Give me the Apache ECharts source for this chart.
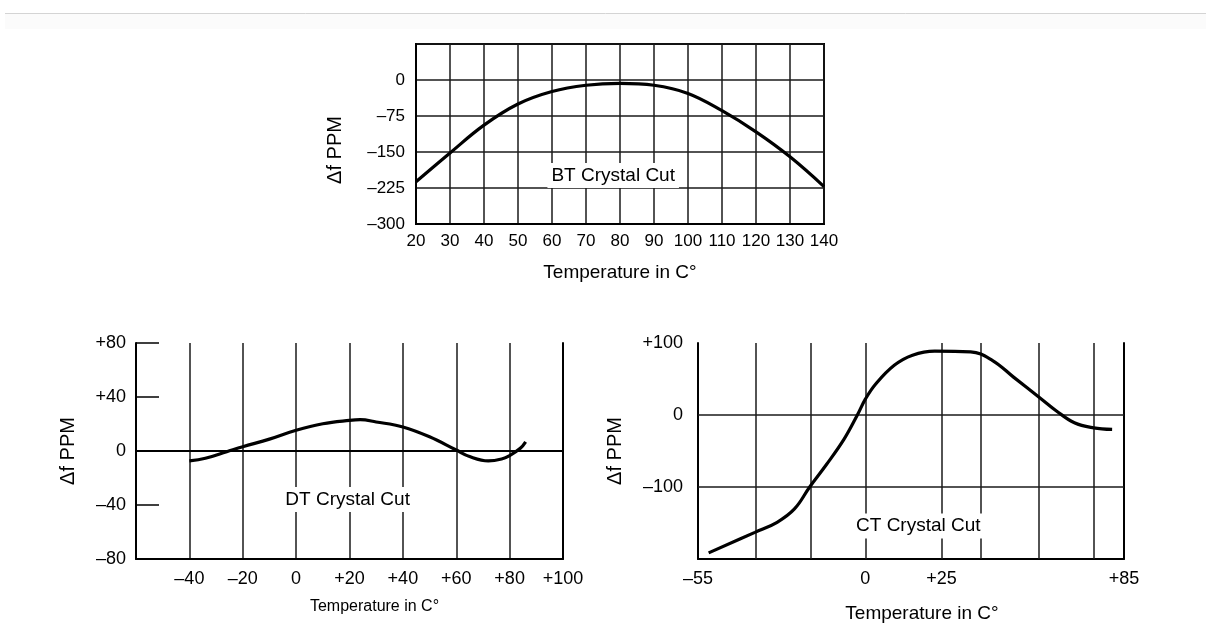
<!DOCTYPE html>
<html><head><meta charset="utf-8">
<script src="https://cdn.jsdelivr.net/npm/echarts@6/dist/echarts.min.js"></script>
<style>html,body{margin:0;padding:0;background:#fff;}#c{width:1206px;height:624px;}</style>
</head><body><div id="c"></div>
<script>
// ---- BT crystal cut (top) ----
const btTemp = [20, 30, 40, 50, 60, 70, 80, 90, 100, 110, 120, 130, 140];
const btPPM  = [-212, -152, -94, -50, -24, -11, -7, -11, -28, -64, -108, -160, -222];
const btXTicks = [20, 140, 10];          // min, max, step
const btYTicks = [-300, 75, 75];
const btLabel = ['BT Crystal Cut', 78, -199];

// ---- DT crystal cut (bottom left) ----
const dtTemp = [-40, -34, -26, -20, -10, 0, 10, 20, 24, 30, 40, 50, 60, 65, 72, 77, 80, 84, 86];
const dtPPM  = [-7.3, -5.4, -0.5, 3.2, 8.8, 15.4, 20.2, 22.7, 23.2, 21.5, 17.8, 10.5, 0.7, -4.1, -7.3, -5.9, -3.4, 2, 6.8];
const dtXTicks = [-60, 100, 20];
const dtYTicks = [-80, 80, 40];
const dtLabel = ['DT Crystal Cut', 19.3, -36];

// ---- CT crystal cut (bottom right) ----
const ctTemp = [-51.5, -36.3, -29, -23.3, -18.3, -12.9, -7.1, -2.5, 0, 3.4, 9.5, 15.5, 22.8, 34.6, 41.7, 48.7, 57.2, 62.8, 68.7, 75, 81.1];
const ctPPM  = [-191.5, -163, -149, -130.5, -100, -69.5, -34.3, 1, 22, 43, 69, 83, 88.7, 87.8, 76, 52.6, 24.4, 5.6, -10.8, -17.8, -20];
const ctXTicks = [-55, 85, 5];
const ctXShown = [-55, 0, 25, 85];
const ctXGrid = [-36, -18, 0, 25, 38, 57, 75];
const ctYTicks = [-200, 100, 100];
const ctYGrid = [0, -100];
const ctLabel = ['CT Crystal Cut', 17.4, -154];

const SANS = '"Liberation Sans",Arial,sans-serif';

function sign(v) { return v > 0 ? '+' + v : (v < 0 ? '\u2013' + (-v) : '0'); }
function plain(v) { return v < 0 ? '\u2013' + (-v) : String(v); }
function zip(a, b) { return a.map((x, i) => [x, b[i]]); }

const axisLineStyle = { show: true, onZero: false, lineStyle: { color: '#000', width: 2 } };
const gridLine = { color: '#1a1a1a', width: 1.5 };

function curve(xi, yi, xs, ys) {
  return { type: 'line', xAxisIndex: xi, yAxisIndex: yi, data: zip(xs, ys), smooth: 0.4,
    showSymbol: false, symbol: 'none', z: 5, silent: true,
    lineStyle: { color: '#000', width: 3.2 } };
}
function textMark(xi, yi, lab, size) {
  return { type: 'scatter', xAxisIndex: xi, yAxisIndex: yi, data: [[lab[1], lab[2]]], symbolSize: 1,
    itemStyle: { color: '#fff', opacity: 1 }, z: 10, silent: true,
    label: { show: true, position: 'inside', formatter: lab[0], color: '#000', fontFamily: SANS, fontSize: size,
      backgroundColor: '#fff', padding: [3, 4, 3, 4] } };
}

const chart = echarts.init(document.getElementById('c'), null, { renderer: 'canvas' });
chart.setOption({
  backgroundColor: '#fff',
  animation: false,
  graphic: [
    { type: 'rect', shape: { x: 5, y: 14, width: 1201, height: 15 }, style: { fill: '#fbfbfb' }, silent: true, z: -10 },
    { type: 'line', shape: { x1: 5, y1: 13.5, x2: 1206, y2: 13.5 }, style: { stroke: '#d4d4d4', lineWidth: 1 }, silent: true }
  ],
  grid: [
    { left: 416, top: 44, width: 408, height: 180, show: true, borderColor: '#000', borderWidth: 2, backgroundColor: 'transparent', outerBoundsMode: 'none' },
    { left: 136, top: 343, width: 427, height: 216, outerBoundsMode: 'none' },
    { left: 698, top: 343, width: 426, height: 216, outerBoundsMode: 'none' }
  ],
  xAxis: [
    { type: 'value', gridIndex: 0, min: btXTicks[0], max: btXTicks[1], interval: btXTicks[2],
      axisLine: axisLineStyle, axisTick: { show: false }, splitLine: { show: true, lineStyle: gridLine },
      axisLabel: { margin: 9, color: '#000', fontFamily: SANS, fontSize: 17 },
      name: 'Temperature in C°', nameLocation: 'middle', nameGap: 39, nameMoveOverlap: false,
      nameTextStyle: { color: '#000', fontFamily: SANS, fontSize: 19 } },
    { type: 'value', gridIndex: 1, min: dtXTicks[0], max: dtXTicks[1], interval: dtXTicks[2],
      axisLine: axisLineStyle, axisTick: { show: false }, splitLine: { show: true, lineStyle: gridLine },
      axisLabel: { margin: 11, color: '#000', fontFamily: SANS, fontSize: 18,
        formatter: v => v === dtXTicks[0] ? '' : sign(v) },
      name: 'Temperature in C°', nameLocation: 'middle', nameGap: 40, nameMoveOverlap: false,
      nameTextStyle: { color: '#000', fontFamily: SANS, fontSize: 16, padding: [0, 0, 0, 50] } },
    { type: 'value', gridIndex: 2, min: ctXTicks[0], max: ctXTicks[1], interval: ctXTicks[2],
      axisLine: axisLineStyle, axisTick: { show: false }, splitLine: { show: false },
      axisLabel: { margin: 11, color: '#000', fontFamily: SANS, fontSize: 18, showMinLabel: true, showMaxLabel: true,
        formatter: v => ctXShown.indexOf(v) >= 0 ? sign(v) : '' },
      name: 'Temperature in C°', nameLocation: 'middle', nameGap: 45, nameMoveOverlap: false,
      nameTextStyle: { color: '#000', fontFamily: SANS, fontSize: 19, padding: [0, 0, 0, 22] } }
  ],
  yAxis: [
    { type: 'value', gridIndex: 0, min: btYTicks[0], max: btYTicks[1], interval: btYTicks[2],
      axisLine: axisLineStyle, axisTick: { show: false }, splitLine: { show: true, lineStyle: gridLine },
      axisLabel: { margin: 11, color: '#000', fontFamily: SANS, fontSize: 17,
        formatter: v => v === btYTicks[1] ? '' : plain(v) },
      name: '\u0394f PPM', nameLocation: 'middle', nameGap: 71, nameMoveOverlap: false,
      nameTextStyle: { color: '#000', fontFamily: SANS, fontSize: 20, padding: [0, 32, 0, 0] } },
    { type: 'value', gridIndex: 1, min: dtYTicks[0], max: dtYTicks[1], interval: dtYTicks[2],
      axisLine: axisLineStyle, axisTick: { show: true, inside: true, length: 23, lineStyle: { color: '#000', width: 1.5 } },
      splitLine: { show: false },
      axisLabel: { margin: 10, color: '#000', fontFamily: SANS, fontSize: 18, formatter: v => sign(v) },
      name: '\u0394f PPM', nameLocation: 'middle', nameGap: 58, nameMoveOverlap: false,
      nameTextStyle: { color: '#000', fontFamily: SANS, fontSize: 20 } },
    { type: 'value', gridIndex: 1, position: 'right', min: dtYTicks[0], max: dtYTicks[1], interval: dtYTicks[2],
      axisLine: axisLineStyle, axisTick: { show: false }, axisLabel: { show: false }, splitLine: { show: false } },
    { type: 'value', gridIndex: 2, min: ctYTicks[0], max: ctYTicks[1], interval: ctYTicks[2],
      axisLine: axisLineStyle, axisTick: { show: false }, splitLine: { show: false },
      axisLabel: { margin: 15, color: '#000', fontFamily: SANS, fontSize: 18,
        formatter: v => v === ctYTicks[0] ? '' : sign(v) },
      name: '\u0394f PPM', nameLocation: 'middle', nameGap: 73, nameMoveOverlap: false,
      nameTextStyle: { color: '#000', fontFamily: SANS, fontSize: 20 } },
    { type: 'value', gridIndex: 2, position: 'right', min: ctYTicks[0], max: ctYTicks[1], interval: ctYTicks[2],
      axisLine: axisLineStyle, axisTick: { show: false }, axisLabel: { show: false }, splitLine: { show: false } }
  ],
  series: [
    { type: 'line', xAxisIndex: 1, yAxisIndex: 1, data: [], z: 1, silent: true,
      markLine: { silent: true, symbol: ['none', 'none'], label: { show: false }, animation: false,
        lineStyle: { color: '#000', width: 2, type: 'solid' }, data: [{ yAxis: 0 }] } },
    { type: 'line', xAxisIndex: 2, yAxisIndex: 3, data: [], z: 1, silent: true,
      markLine: { silent: true, symbol: ['none', 'none'], label: { show: false }, animation: false,
        lineStyle: { color: '#1a1a1a', width: 1.5, type: 'solid' },
        data: ctXGrid.map(v => ({ xAxis: v })).concat(ctYGrid.map(v => ({ yAxis: v }))) } },
    curve(0, 0, btTemp, btPPM),
    curve(1, 1, dtTemp, dtPPM),
    curve(2, 3, ctTemp, ctPPM),
    textMark(0, 0, btLabel, 19),
    textMark(1, 1, dtLabel, 19),
    textMark(2, 3, ctLabel, 19)
  ]
});
</script></body></html>
